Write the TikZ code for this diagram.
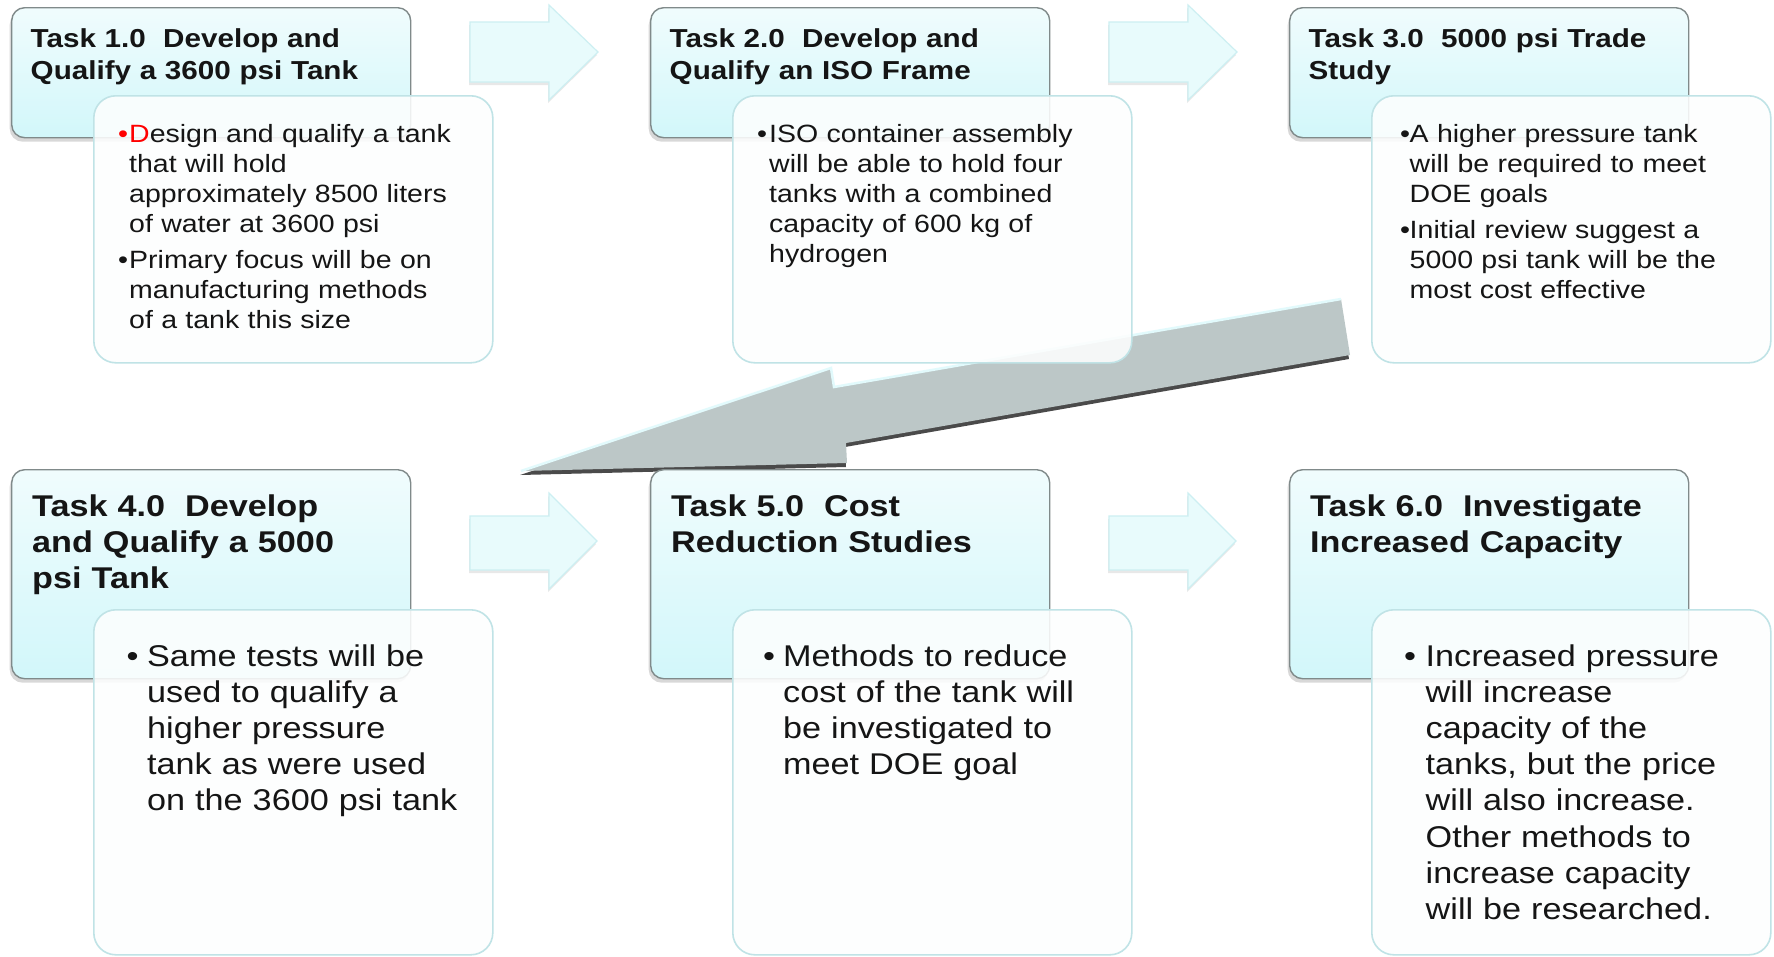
\documentclass[tikz,border=0pt]{standalone}
\usepackage{fontspec}
\setmainfont{Liberation Sans}[FakeStretch=1.14]
\usetikzlibrary{shadows}
\definecolor{hdtop}{HTML}{F0FCFD}
\definecolor{hdbot}{HTML}{D2F7FA}
\definecolor{hdborder}{HTML}{808A8A}
\definecolor{bdfill}{HTML}{FDFEFE}
\definecolor{bdborder}{HTML}{C0E3E6}
\definecolor{safill}{HTML}{E8FBFC}
\definecolor{saborder}{HTML}{CDEFF2}
\definecolor{bafill}{HTML}{BCC7C7}
\definecolor{bashadow}{HTML}{4A4A4A}
\definecolor{bahi}{HTML}{E2FAFC}
\definecolor{txt}{HTML}{151515}
\newcommand{\bitem}[3]{\noindent\hangindent=#1\hangafter=1{\let\\\newline\makebox[#1][l]{#2}#3}\par}
\newcommand{\bigarrowpath}{(1341,299) -- (834,387) -- (831,368) -- (521,471) -- (847,463) -- (846,443) -- (1350,355) -- cycle}
\tikzset{
  headbox/.style={draw=hdborder, line width=1.4pt, rounded corners=13pt,
    top color=hdtop, bottom color=hdbot,
    drop shadow={shadow xshift=-2pt, shadow yshift=-4pt, opacity=0.3},
    minimum width=399pt, anchor=north west, inner sep=0pt},
  bodybox/.style={draw=bdborder, line width=1.6pt, rounded corners=22pt,
    fill=bdfill, fill opacity=0.88, minimum width=399pt, anchor=north west, inner sep=0pt},
  smallarrow/.style={draw=saborder, line width=1.2pt, fill=safill,
    drop shadow={shadow xshift=-1pt, shadow yshift=-3pt, opacity=0.18}},
  hdtextA/.style={font=\fontsize{26}{31.5}\selectfont\bfseries, text=txt, text width=420pt, align=left, inner sep=0pt, anchor=base west},
  hdtextB/.style={font=\fontsize{30}{36}\selectfont\bfseries, text=txt, text width=420pt, align=left, inner sep=0pt, anchor=base west},
  bdtextA/.style={font=\fontsize{25}{30}\selectfont, text=txt, text width=420pt, inner sep=0pt, anchor=base west},
  bdtextB/.style={font=\fontsize{30}{36.2}\selectfont, text=txt, text width=420pt, inner sep=0pt, anchor=base west}
}
\begin{document}
\begin{tikzpicture}[x=1pt,y=-1pt]
\useasboundingbox (0,0) rectangle (1774,956);
\fill[white] (0,0) rectangle (1774,956);
% small arrows
\draw[smallarrow] (470,22) -- (549,22) -- (549,5) -- (598,52) -- (549,100) -- (549,82) -- (470,82) -- cycle;
\draw[smallarrow] (1109,22) -- (1188,22) -- (1188,5) -- (1237,52) -- (1188,100) -- (1188,82) -- (1109,82) -- cycle;
\draw[smallarrow] (470,516) -- (549,516) -- (549,493) -- (597,541) -- (549,589) -- (549,570) -- (470,570) -- cycle;
\draw[smallarrow] (1109,516) -- (1188,516) -- (1188,493) -- (1236,541) -- (1188,589) -- (1188,570) -- (1109,570) -- cycle;
% big arrow
\fill[bashadow, shift={(-1,4)}] \bigarrowpath;
\fill[bafill] \bigarrowpath;
\draw[bahi, line width=2.5pt, line join=miter] (1341,299) -- (834,387) -- (831,368) -- (521,471);
% header boxes
\node[headbox, minimum height=130pt] (h1) at (11,7) {};
\node[headbox, minimum height=130pt] (h2) at (650,7) {};
\node[headbox, minimum height=130pt] (h3) at (1289,7) {};
\node[headbox, minimum height=209pt] (h4) at (11,469) {};
\node[headbox, minimum height=209pt] (h5) at (650,469) {};
\node[headbox, minimum height=209pt] (h6) at (1289,469) {};
% body boxes
\node[bodybox, minimum height=267pt] (b1) at (93,95) {};
\node[bodybox, minimum height=267pt] (b2) at (732,95) {};
\node[bodybox, minimum height=267pt] (b3) at (1371,95) {};
\node[bodybox, minimum height=345pt] (b4) at (93,609) {};
\node[bodybox, minimum height=345pt] (b5) at (732,609) {};
\node[bodybox, minimum height=345pt] (b6) at (1371,609) {};
% header texts
\node[hdtextA] (h1t) at (30.5,47.5) {Task 1.0~ Develop and\\Qualify a 3600 psi Tank};
\node[hdtextA] (h2t) at (669.5,47.5) {Task 2.0~ Develop and\\Qualify an ISO Frame};
\node[hdtextA] (h3t) at (1308.5,47.5) {Task 3.0~ 5000 psi Trade\\Study};
\node[hdtextB] (h4t) at (32,516) {Task 4.0~ Develop\\and Qualify a 5000\\psi Tank};
\node[hdtextB] (h5t) at (671,516) {Task 5.0~ Cost\\Reduction Studies};
\node[hdtextB] (h6t) at (1310,516) {Task 6.0~ Investigate\\Increased Capacity};
% body texts
\node[bdtextA] (b1t) at (118,142) {%
\bitem{11pt}{\textcolor{red}{\textbullet}}{\textcolor{red}{D}esign and qualify a tank\\that will hold\\approximately 8500 liters\\of water at 3600 psi}\vskip6pt
\bitem{11pt}{\textbullet}{Primary focus will be on\\manufacturing methods\\of a tank this size}};
\node[bdtextA] (b2t) at (757,142) {%
\bitem{12pt}{\textbullet}{ISO container assembly\\will be able to hold four\\tanks with a combined\\capacity of 600 kg of\\hydrogen}};
\node[bdtextA] (b3t) at (1400,142) {%
\bitem{9.5pt}{\textbullet}{A higher pressure tank\\will be required to meet\\DOE goals}\vskip6pt
\bitem{9.5pt}{\textbullet}{Initial review suggest a\\5000 psi tank will be the\\most cost effective}};
\node[bdtextB] (b4t) at (126.5,666) {%
\bitem{20.5pt}{\textbullet}{Same tests will be\\used to qualify a\\higher pressure\\tank as were used\\on the 3600 psi tank}};
\node[bdtextB] (b5t) at (763,666) {%
\bitem{20pt}{\textbullet}{Methods to reduce\\cost of the tank will\\be investigated to\\meet DOE goal}};
\node[bdtextB] (b6t) at (1404,666) {%
\bitem{21.5pt}{\textbullet}{Increased pressure\\will increase\\capacity of the\\tanks, but the price\\will also increase.\\Other methods to\\increase capacity\\will be researched.}};
\end{tikzpicture}
\end{document}
